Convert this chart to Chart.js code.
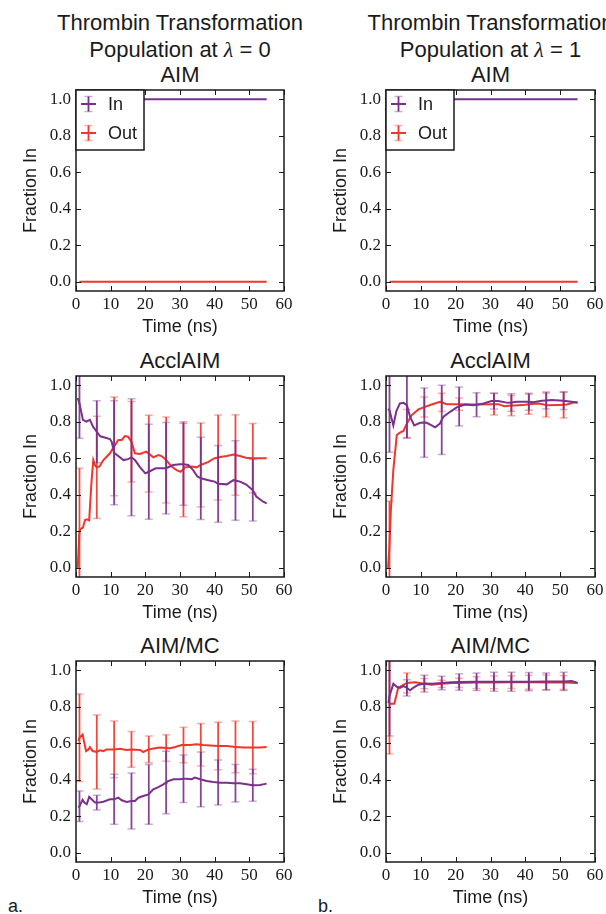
<!DOCTYPE html>
<html><head><meta charset="utf-8">
<script src="https://cdn.jsdelivr.net/npm/chart.js@4/dist/chart.umd.min.js"></script>
<style>
html,body{margin:0;padding:0;background:#fff;overflow:hidden;}
#page{position:relative;width:606px;height:914px;overflow:hidden;background:#fff;}
canvas{position:absolute;}
.t{position:absolute;width:400px;text-align:center;white-space:nowrap;font-family:'Liberation Sans',Arial,sans-serif;font-size:22px;color:#1a1a1a;height:26px;line-height:26px;}
.lam{font-family:'Liberation Serif',serif;font-style:italic;}
.lab{position:absolute;font-family:'Liberation Sans',Arial,sans-serif;font-size:18px;color:#1a1a1a;line-height:20px;}
</style></head><body><div id="page"></div>
<script>
// ---------- DATA ----------
const errTimes = [1, 6, 11, 16, 21, 26, 31, 36, 41, 46, 51];
const xTicks = [0, 10, 20, 30, 40, 50, 60];
const yTicks = [0.0, 0.2, 0.4, 0.6, 0.8, 1.0];
const seriesNames = ['In', 'Out'];
const columnTitles = ['Population at \u03bb = 0', 'Population at \u03bb = 1'];
const panelTitles = ['AIM', 'AcclAIM', 'AIM/MC'];

// AIM, lambda = 0 / 1
const aimInL0  = [[1,1],[6,1],[11,1],[16,1],[21,1],[26,1],[31,1],[36,1],[41,1],[46,1],[51,1],[55,1]];
const aimOutL0 = [[1,0],[6,0],[11,0],[16,0],[21,0],[26,0],[31,0],[36,0],[41,0],[46,0],[51,0],[55,0]];
const aimInL1  = [[1,1],[6,1],[11,1],[16,1],[21,1],[26,1],[31,1],[36,1],[41,1],[46,1],[51,1],[55,1]];
const aimOutL1 = [[1,0],[6,0],[11,0],[16,0],[21,0],[26,0],[31,0],[36,0],[41,0],[46,0],[51,0],[55,0]];

// AcclAIM, lambda = 0
const acclInL0 = [[0.5,0.93],[1,0.90],[2,0.81],[3,0.80],[4,0.81],[5,0.77],[6,0.745],[7,0.72],[8,0.715],[9.8,0.705],[10.3,0.69],[11,0.63],[12,0.615],[13.7,0.59],[15,0.595],[16,0.605],[17,0.59],[18.5,0.55],[20,0.517],[21,0.526],[23,0.545],[26,0.545],[28,0.563],[30,0.567],[31,0.567],[32.4,0.563],[33.8,0.535],[35,0.50],[36,0.49],[38.2,0.48],[40,0.472],[41,0.46],[43.5,0.457],[45.4,0.48],[46,0.478],[47.3,0.472],[49,0.457],[50.7,0.43],[51,0.425],[52,0.39],[54,0.362],[55,0.353]];
const acclInL0Err = [0.19, 0.17, 0.285, 0.32, 0.26, 0.25, 0.225, 0.225, 0.21, 0.218, 0.168];
const acclOutL0 = [[0.5,0.0],[1,0.20],[1.5,0.215],[2,0.22],[2.6,0.262],[3.2,0.266],[3.8,0.26],[4.5,0.48],[5,0.59],[5.5,0.56],[6,0.55],[6.8,0.555],[7.9,0.59],[9.8,0.627],[11,0.665],[12.2,0.70],[13.2,0.70],[14.1,0.721],[15,0.718],[16,0.69],[17,0.627],[18.5,0.623],[20.2,0.636],[21,0.625],[22.3,0.605],[23.75,0.617],[24.7,0.612],[26,0.59],[27.6,0.554],[29,0.535],[30.2,0.526],[31,0.54],[31.4,0.55],[33.4,0.554],[34.8,0.55],[36,0.563],[38.2,0.58],[40,0.60],[41,0.604],[42,0.608],[43.5,0.612],[45.4,0.62],[46,0.618],[47.3,0.612],[49,0.603],[50.7,0.60],[51,0.60],[55,0.60]];
const acclOutL0Err = [0.345, 0.28, 0.27, 0.22, 0.21, 0.235, 0.26, 0.23, 0.232, 0.22, 0.19];

// AcclAIM, lambda = 1
const acclInL1 = [[0.6,0.87],[1,0.863],[2.1,0.78],[3,0.86],[4,0.90],[5,0.903],[6,0.89],[6.9,0.827],[8.1,0.78],[9.8,0.794],[11,0.795],[11.7,0.794],[13.1,0.78],[14.1,0.769],[15.5,0.79],[16,0.81],[16.5,0.827],[18.4,0.854],[20.3,0.878],[21,0.883],[22.7,0.894],[25,0.89],[26,0.893],[28,0.90],[30.3,0.913],[31,0.913],[32.2,0.913],[35,0.903],[36,0.905],[37.5,0.909],[40,0.909],[41,0.909],[42.3,0.907],[44.7,0.914],[46,0.916],[47.6,0.918],[51,0.914],[53.3,0.909],[55,0.905]];
const acclInL1Err = [0.23, 0.18, 0.19, 0.19, 0.107, 0.066, 0.043, 0.048, 0.046, 0.047, 0.047];
const acclOutL1 = [[0.6,0.0],[1,0.12],[1.4,0.317],[2.1,0.535],[3.1,0.727],[4,0.74],[5,0.749],[6,0.79],[7.4,0.836],[9.3,0.867],[11,0.88],[13.1,0.894],[15.5,0.909],[16,0.906],[17.4,0.896],[21,0.896],[25.5,0.894],[31,0.896],[32.2,0.896],[34,0.885],[36,0.888],[37,0.889],[40,0.893],[41,0.895],[43.7,0.90],[45,0.896],[46,0.89],[49.5,0.891],[51,0.892],[51.9,0.894],[53.8,0.905],[55,0.905]];
const acclOutL1Err = [0.245, 0.077, 0.055, 0.05, 0.033, 0.03, 0.06, 0.055, 0.055, 0.065, 0.072];

// AIM/MC, lambda = 0
const mcInL0 = [[0.7,0.248],[1,0.255],[1.9,0.29],[2.4,0.275],[3.1,0.266],[3.8,0.306],[4.5,0.293],[5.5,0.275],[6,0.275],[6.4,0.275],[7.9,0.28],[9.8,0.293],[11,0.293],[12.2,0.302],[13.2,0.288],[14.6,0.279],[16,0.284],[17,0.284],[18,0.302],[19.4,0.311],[20.9,0.32],[21,0.32],[22.3,0.348],[23.75,0.36],[25.2,0.375],[26,0.385],[26.2,0.39],[28.1,0.403],[30,0.403],[31,0.405],[31.9,0.406],[33.4,0.403],[34.3,0.412],[35.8,0.403],[36,0.402],[37.7,0.393],[39.6,0.388],[41,0.385],[41.5,0.384],[43.5,0.384],[45.4,0.381],[46,0.381],[47.3,0.381],[49.2,0.375],[51,0.37],[51.2,0.37],[53.1,0.372],[55,0.379]];
const mcInL0Err = [0.084, 0.04, 0.137, 0.153, 0.164, 0.171, 0.13, 0.15, 0.123, 0.103, 0.088];
const mcOutL0 = [[0.7,0.612],[1,0.63],[1.9,0.648],[2.4,0.603],[2.9,0.557],[3.6,0.566],[4,0.579],[4.8,0.557],[6,0.552],[6.9,0.561],[7.9,0.557],[8.8,0.566],[10.8,0.566],[11,0.566],[12.7,0.57],[14.6,0.563],[16,0.566],[18.5,0.563],[19.4,0.552],[20.9,0.566],[21,0.566],[22.8,0.572],[24.2,0.576],[26,0.574],[27.1,0.572],[28.6,0.579],[30.5,0.59],[31,0.59],[32.9,0.59],[34.8,0.594],[36,0.592],[36.7,0.59],[38.7,0.588],[41,0.585],[41.5,0.585],[43.5,0.585],[45.4,0.581],[46,0.58],[48.3,0.576],[51,0.576],[53.1,0.576],[55,0.579]];
const mcOutL0Err = [0.24, 0.202, 0.155, 0.098, 0.073, 0.073, 0.097, 0.116, 0.13, 0.141, 0.143];

// AIM/MC, lambda = 1
const mcInL1 = [[0.7,0.82],[1,0.86],[1.15,0.867],[2.1,0.925],[3.1,0.909],[4,0.903],[5,0.913],[6,0.903],[6.9,0.89],[7.8,0.903],[9.3,0.92],[11,0.926],[11.2,0.927],[13.1,0.925],[16,0.93],[18.9,0.934],[21,0.935],[26,0.936],[31,0.936],[36,0.936],[41,0.937],[46,0.938],[51,0.938],[53.3,0.94],[55,0.93]];
const mcInL1Err = [0.22, 0.045, 0.046, 0.037, 0.045, 0.048, 0.052, 0.052, 0.05, 0.047, 0.05];
const mcOutL1 = [[1,0.816],[2.4,0.816],[3.5,0.903],[5,0.92],[6,0.93],[8.3,0.934],[10.7,0.927],[11,0.926],[13.1,0.92],[16,0.925],[18.9,0.93],[21,0.93],[26,0.932],[31,0.933],[36,0.934],[41,0.934],[46,0.933],[51,0.932],[55,0.93]];
const mcOutL1Err = [0.275, 0.055, 0.028, 0.02, 0.025, 0.032, 0.035, 0.035, 0.038, 0.04, 0.038];

// ---------- STYLE / LAYOUT ----------
const PURPLE = '#7a318c', RED = '#f1352a', INK = '#1a1a1a';
const cols = [{left:76, w:208}, {left:386, w:209}];
const rowTops = [90, 376, 661];
const PH = 201, YW = 70, XH = 50, PT = 8, PR = 10;

const panels = [
  {c:0,r:0,title:0,inD:aimInL0,outD:aimOutL0,inE:null,outE:null,legend:true},
  {c:1,r:0,title:0,inD:aimInL1,outD:aimOutL1,inE:null,outE:null,legend:true},
  {c:0,r:1,title:1,inD:acclInL0,outD:acclOutL0,inE:acclInL0Err,outE:acclOutL0Err},
  {c:1,r:1,title:1,inD:acclInL1,outD:acclOutL1,inE:acclInL1Err,outE:acclOutL1Err},
  {c:0,r:2,title:2,inD:mcInL0,outD:mcOutL0,inE:mcInL0Err,outE:mcOutL0Err},
  {c:1,r:2,title:2,inD:mcInL1,outD:mcOutL1,inE:mcInL1Err,outE:mcOutL1Err}
];

const page = document.getElementById('page');
function addDiv(cls, html, left, top) {
  const d = document.createElement('div');
  d.className = cls; d.innerHTML = html;
  d.style.left = left + 'px'; d.style.top = top + 'px';
  page.appendChild(d); return d;
}

// Titles
cols.forEach((col, ci) => {
  const cx = col.left + col.w / 2;
  addDiv('t', 'Thrombin Transformation', cx - 200, 23 - 13);
  addDiv('t', columnTitles[ci].replace('\u03bb', '<span class="lam">\u03bb</span>'), cx - 200, 50 - 13);
});
panels.forEach(p => {
  const col = cols[p.c];
  addDiv('t', panelTitles[p.title], col.left + col.w / 2 - 200, rowTops[p.r] - 15 - 13);
});
addDiv('lab', 'a.', 8, 896);
addDiv('lab', 'b.', 318, 896);

const decor = {
  id: 'decor',
  afterDatasetDraw(chart, args) {
    const ds = chart.data.datasets[args.index];
    if (!ds.err) return;
    const {ctx, chartArea: a, scales: {x, y}} = chart;
    ctx.save();
    ctx.beginPath(); ctx.rect(a.left, a.top, a.right - a.left, a.bottom - a.top); ctx.clip();
    errTimes.forEach((t, i) => {
      const p = ds.data.find(d => d.x === t);
      if (!p) return;
      const e = ds.err[i];
      const px = x.getPixelForValue(t);
      const y1 = y.getPixelForValue(p.y + e), y2 = y.getPixelForValue(p.y - e);
      ctx.strokeStyle = ds.borderColor;
      ctx.globalAlpha = 0.9; ctx.lineWidth = 1.8;
      ctx.beginPath(); ctx.moveTo(px, y1); ctx.lineTo(px, y2); ctx.stroke();
      ctx.globalAlpha = 0.4; ctx.lineWidth = 1.5;
      ctx.beginPath();
      ctx.moveTo(px - 4, y1); ctx.lineTo(px + 4, y1);
      ctx.moveTo(px - 4, y2); ctx.lineTo(px + 4, y2);
      ctx.stroke();
    });
    ctx.restore();
  },
  afterDraw(chart) {
    const {ctx, chartArea: a, scales: {x, y}} = chart;
    ctx.save();
    ctx.strokeStyle = INK; ctx.lineWidth = 1;
    ctx.beginPath();
    xTicks.forEach(v => {
      const px = Math.round(x.getPixelForValue(v)) + 0.5;
      ctx.moveTo(px, a.bottom); ctx.lineTo(px, a.bottom - 5);
      ctx.moveTo(px, a.top); ctx.lineTo(px, a.top + 5);
    });
    yTicks.forEach(v => {
      const py = Math.round(y.getPixelForValue(v)) + 0.5;
      ctx.moveTo(a.left, py); ctx.lineTo(a.left + 5, py);
      ctx.moveTo(a.right, py); ctx.lineTo(a.right - 5, py);
    });
    ctx.stroke();
    ctx.lineWidth = 1.5;
    ctx.strokeRect(a.left, a.top, a.right - a.left, a.bottom - a.top);
    if (chart.options.plugins.decor && chart.options.plugins.decor.legend) {
      const bx = a.left, by = a.top, bw = 68, bh = 60;
      ctx.fillStyle = '#fff'; ctx.fillRect(bx, by, bw, bh);
      ctx.strokeStyle = INK; ctx.lineWidth = 1.5; ctx.strokeRect(bx, by, bw, bh);
      chart.data.datasets.forEach((ds, i) => {
        const cy = by + 14 + i * 29;
        ctx.strokeStyle = ds.borderColor;
        ctx.globalAlpha = 1; ctx.lineWidth = 2;
        ctx.beginPath(); ctx.moveTo(bx + 5, cy); ctx.lineTo(bx + 20, cy); ctx.stroke();
        ctx.lineWidth = 1.8;
        ctx.beginPath(); ctx.moveTo(bx + 12.5, cy - 7.5); ctx.lineTo(bx + 12.5, cy + 7.5); ctx.stroke();
        ctx.globalAlpha = 0.4; ctx.lineWidth = 1.5;
        ctx.beginPath();
        ctx.moveTo(bx + 8.5, cy - 7.5); ctx.lineTo(bx + 16.5, cy - 7.5);
        ctx.moveTo(bx + 8.5, cy + 7.5); ctx.lineTo(bx + 16.5, cy + 7.5);
        ctx.stroke();
        ctx.globalAlpha = 1;
        ctx.fillStyle = INK; ctx.font = "18px 'Liberation Sans', Arial, sans-serif";
        ctx.textAlign = 'left'; ctx.textBaseline = 'middle';
        ctx.fillText(ds.label, bx + 32, cy + 1);
      });
    }
    ctx.restore();
  }
};

function toXY(arr) { return arr.map(([x, y]) => ({x, y})); }

panels.forEach(p => {
  const col = cols[p.c];
  const cv = document.createElement('canvas');
  const W = YW + col.w + PR, H = PT + PH + XH;
  cv.width = W; cv.height = H;
  cv.style.width = W + 'px'; cv.style.height = H + 'px';
  cv.style.left = (col.left - YW) + 'px';
  cv.style.top = (rowTops[p.r] - PT) + 'px';
  page.appendChild(cv);
  const tickFont = {family: "'Liberation Serif', 'Times New Roman', serif", size: 17};
  const titleFont = {family: "'Liberation Sans', Arial, sans-serif", size: 18};
  new Chart(cv, {
    type: 'line',
    data: {
      datasets: [
        {label: seriesNames[0], data: toXY(p.inD), err: p.inE, borderColor: PURPLE, borderWidth: 2, pointRadius: 0, tension: 0, fill: false},
        {label: seriesNames[1], data: toXY(p.outD), err: p.outE, borderColor: RED, borderWidth: 2, pointRadius: 0, tension: 0, fill: false}
      ]
    },
    options: {
      responsive: false, animation: false, devicePixelRatio: 1,
      layout: {padding: {left: 0, top: PT, right: PR, bottom: 0}},
      plugins: {legend: {display: false}, tooltip: {enabled: false}, decor: {legend: !!p.legend}},
      scales: {
        x: {
          type: 'linear', min: 0, max: 60,
          grid: {display: false, drawTicks: false}, border: {display: false},
          ticks: {stepSize: 10, font: tickFont, color: INK, padding: 3, maxRotation: 0, callback: v => String(v)},
          afterBuildTicks: s => { s.ticks = xTicks.map(v => ({value: v})); },
          title: {display: true, text: 'Time (ns)', font: titleFont, color: INK, padding: {top: 0, bottom: 3}},
          afterFit: s => { s.height = XH; s.paddingLeft = 0; s.paddingRight = 0; s.paddingTop = 0; s.paddingBottom = 0; }
        },
        y: {
          type: 'linear', min: -0.05, max: 1.05,
          grid: {display: false, drawTicks: false}, border: {display: false},
          ticks: {font: tickFont, color: INK, padding: 5, callback: v => Number(v).toFixed(1)},
          afterBuildTicks: s => { s.ticks = yTicks.map(v => ({value: v})); },
          title: {display: true, text: 'Fraction In', font: titleFont, color: INK, padding: {top: 14, bottom: 0}},
          afterFit: s => { s.width = YW; s.paddingLeft = 0; s.paddingRight = 0; s.paddingTop = 0; s.paddingBottom = 0; }
        }
      }
    },
    plugins: [decor]
  });
});
</script>
</body></html>
